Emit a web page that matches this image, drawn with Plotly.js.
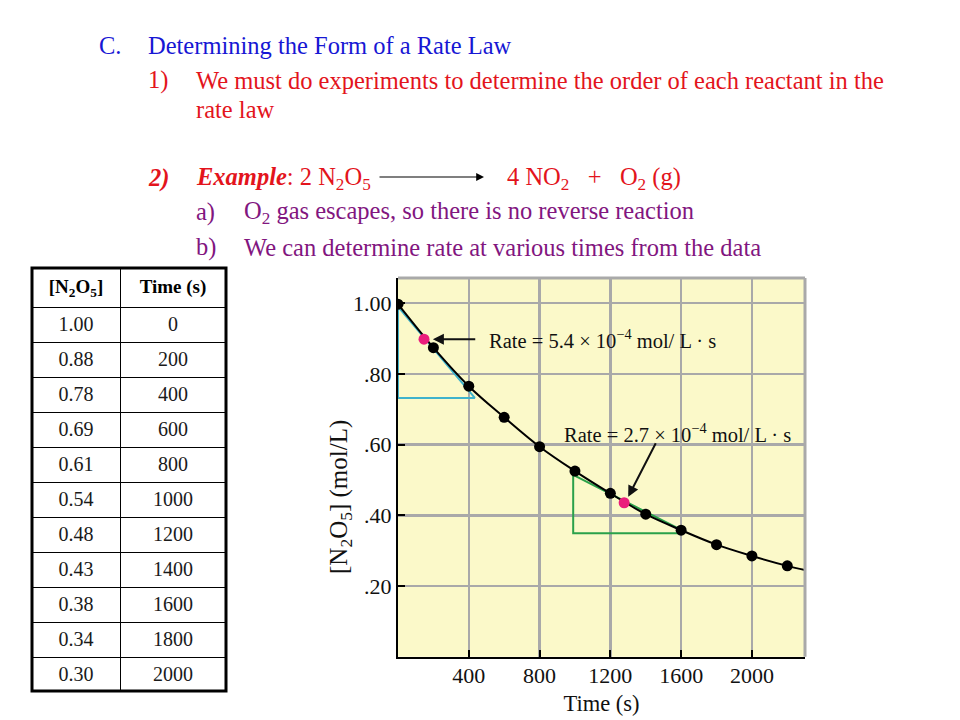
<!DOCTYPE html>
<html>
<head>
<meta charset="utf-8">
<script src="https://cdn.plot.ly/plotly-3.0.1.min.js"></script>
<style>
html, body { margin: 0; padding: 0; background: #ffffff; }
#chart { width: 960px; height: 720px; }
</style>
</head>
<body>
<div id="chart"></div>
<script>
// ---- Table data ----
const tableHeader = ["<b>[N<sub>2</sub>O<sub>5</sub>]</b>", "<b>Time (s)</b>"];
const tableConc = ["1.00", "0.88", "0.78", "0.69", "0.61", "0.54", "0.48", "0.43", "0.38", "0.34", "0.30"];
const tableTime = ["0", "200", "400", "600", "800", "1000", "1200", "1400", "1600", "1800", "2000"];

// ---- Graph data (read from the plotted points) ----
const pointTime = [0, 200, 400, 600, 800, 1000, 1200, 1400, 1600, 1800, 2000, 2200];
const pointConc = [0.997, 0.874, 0.765, 0.677, 0.594, 0.525, 0.462, 0.403, 0.358, 0.317, 0.285, 0.257];
const curveTime = [0, 200, 400, 600, 800, 1000, 1200, 1400, 1600, 1800, 2000, 2200, 2300];
const curveConc = [0.997, 0.874, 0.765, 0.677, 0.594, 0.525, 0.462, 0.403, 0.358, 0.317, 0.285, 0.257, 0.245];
const rateTime = [147, 1278];
const rateConc = [0.898, 0.4355];
const tangent1Time = [0, 434, 0, 0];
const tangent1Conc = [0.99, 0.732, 0.732, 0.99];
const tangent2Time = [990, 1603, 1603, 990, 990];
const tangent2Conc = [0.514, 0.358, 0.349, 0.349, 0.514];
const xTicks = [400, 800, 1200, 1600, 2000];
const xTickLabels = ["400", "800", "1200", "1600", "2000"];
const yTicks = [0.2, 0.4, 0.6, 0.8, 1.0];
const yTickLabels = [".20", ".40", ".60", ".80", "1.00"];
const rateLabels = ["Rate = 5.4 × 10<sup>−4</sup> mol/ L · s", "Rate = 2.7 × 10<sup>−4</sup> mol/ L · s"];
const xTitle = "Time (s)";
const yTitle = "[N<sub>2</sub>O<sub>5</sub>] (mol/L)";

const SERIF = "Liberation Serif, Times New Roman, serif";
const BLUE = "#1717d4";
const RED = "#e3141c";
const PURPLE = "#82167f";
const W = 960, H = 720;
const px = v => v / W;
const py = v => 1 - v / H;

const traces = [
  {
    type: "table",
    domain: { x: [px(32), px(226)], y: [py(691), py(268)] },
    columnwidth: [88, 106],
    header: {
      values: tableHeader,
      align: "center",
      height: 35,
      line: { color: "#000000", width: 1 },
      fill: { color: "#ffffff" },
      font: { family: SERIF, size: 19, color: "#000000" }
    },
    cells: {
      values: [tableConc, tableTime],
      align: "center",
      height: 35,
      line: { color: "#000000", width: 1 },
      fill: { color: "#ffffff" },
      font: { family: SERIF, size: 20, color: "#1a1a1a" }
    }
  },
  {
    type: "scatter", mode: "lines",
    x: tangent1Time, y: tangent1Conc,
    line: { color: "#3fb3cc", width: 2 },
    hoverinfo: "skip", showlegend: false
  },
  {
    type: "scatter", mode: "lines",
    x: tangent2Time, y: tangent2Conc,
    line: { color: "#2aa14a", width: 2 },
    hoverinfo: "skip", showlegend: false
  },
  {
    type: "scatter", mode: "lines",
    x: curveTime, y: curveConc,
    line: { color: "#000000", width: 2, shape: "spline", smoothing: 1 },
    hoverinfo: "skip", showlegend: false
  },
  {
    type: "scatter", mode: "markers",
    x: pointTime, y: pointConc,
    marker: { color: "#000000", size: 11 },
    showlegend: false
  },
  {
    type: "scatter", mode: "markers",
    x: rateTime, y: rateConc,
    marker: { color: "#ea1d7c", size: 11 },
    showlegend: false
  }
];

const annotations = [
  // slide text
  { x: px(97), y: py(45), text: "C.", color: BLUE },
  { x: px(146), y: py(45), text: "Determining the Form of a Rate Law", color: BLUE },
  { x: px(146), y: py(80), text: "1)", color: RED },
  { x: px(194), y: py(80), text: "We must do experiments to determine the order of each reactant in the", color: RED },
  { x: px(194), y: py(109), text: "rate law", color: RED },
  { x: px(146), y: py(178), text: "<b><i>2)</i></b>", color: RED },
  { x: px(194), y: py(178), text: "<b><i>Example</i></b>: 2 N<sub>2</sub>O<sub>5</sub>", color: RED },
  { x: px(505), y: py(178), text: "4 NO<sub>2</sub>\u00a0\u00a0 +\u00a0\u00a0 O<sub>2</sub> (g)", color: RED },
  { x: px(194), y: py(212), text: "a)", color: PURPLE },
  { x: px(242), y: py(212), text: "O<sub>2</sub> gas escapes, so there is no reverse reaction", color: PURPLE },
  { x: px(194), y: py(247), text: "b)", color: PURPLE },
  { x: px(242), y: py(247), text: "We can determine rate at various times from the data", color: PURPLE }
].map(a => ({
  xref: "paper", yref: "paper", x: a.x, y: a.y, text: a.text,
  xanchor: "left", yanchor: "middle", showarrow: false,
  font: { family: SERIF, size: 24.5, color: a.color }
}));

// reaction arrow
annotations.push({
  xref: "paper", yref: "paper", x: px(484), y: py(177), ax: -106, ay: 0,
  text: "", showarrow: true, arrowhead: 2, arrowsize: 1.3, arrowwidth: 1.2,
  arrowcolor: "#000000", standoff: 0
});

// y-axis title (placed lower than the axis centre, as in the reference)
annotations.push({
  xref: "paper", yref: "paper", x: px(340), y: py(497), text: yTitle,
  textangle: -90, xanchor: "center", yanchor: "middle", showarrow: false,
  font: { family: SERIF, size: 25, color: "#111111" }
});

// rate labels and arrows
annotations.push(
  {
    xref: "x", yref: "y", x: 501, y: rateConc[0], text: rateLabels[0],
    xanchor: "left", yanchor: "middle", showarrow: false,
    font: { family: SERIF, size: 20.5, color: "#111111" }
  },
  {
    xref: "x", yref: "y", x: 925, y: 0.6325, text: rateLabels[1],
    xanchor: "left", yanchor: "middle", showarrow: false,
    font: { family: SERIF, size: 20.5, color: "#111111" }
  },
  {
    xref: "x", yref: "y", x: 197, y: rateConc[0], axref: "x", ayref: "y", ax: 445, ay: rateConc[0],
    text: "", showarrow: true, arrowhead: 2, arrowsize: 1.1, arrowwidth: 2, arrowcolor: "#111111", standoff: 0
  },
  {
    xref: "x", yref: "y", x: 1301, y: 0.4525, axref: "x", ayref: "y", ax: 1461, ay: 0.608,
    text: "", showarrow: true, arrowhead: 2, arrowsize: 1.1, arrowwidth: 2, arrowcolor: "#111111", standoff: 0
  }
);

const layout = {
  width: W, height: H,
  margin: { l: 0, r: 0, t: 0, b: 0, pad: 0 },
  paper_bgcolor: "#ffffff",
  plot_bgcolor: "#fbf9c9",
  showlegend: false,
  font: { family: SERIF, color: "#111111" },
  xaxis: {
    domain: [px(398), px(805)],
    range: [0, 2300],
    tickmode: "array", tickvals: xTicks, ticktext: xTickLabels,
    ticks: "inside", ticklen: 7, tickwidth: 2, tickcolor: "#000000",
    showgrid: true, gridcolor: "#a9a9a9", gridwidth: 2.5,
    zeroline: false,
    showline: true, linecolor: "#000000", linewidth: 2,
    tickfont: { family: SERIF, size: 22, color: "#111111" },
    ticklabelstandoff: -2,
    automargin: false,
    title: { text: xTitle, font: { family: SERIF, size: 22.5, color: "#111111" }, standoff: 8 },
    fixedrange: true
  },
  yaxis: {
    domain: [py(656.75), py(278)],
    range: [0, 1.071],
    tickmode: "array", tickvals: yTicks, ticktext: yTickLabels,
    ticks: "inside", ticklen: 7, tickwidth: 2, tickcolor: "#000000",
    showgrid: true, gridcolor: "#a9a9a9", gridwidth: 2.5,
    zeroline: false,
    showline: true, linecolor: "#000000", linewidth: 2,
    tickfont: { family: SERIF, size: 22, color: "#111111" },
    automargin: false,
    fixedrange: true
  },
  shapes: [
    { type: "line", xref: "x domain", yref: "y domain", x0: 0, x1: 1, y0: 1, y1: 1, line: { color: "#a9a9a9", width: 3 } },
    { type: "line", xref: "x domain", yref: "y domain", x0: 1, x1: 1, y0: 0, y1: 1, line: { color: "#a9a9a9", width: 3 } },
    { type: "rect", xref: "paper", yref: "paper", x0: px(32), x1: px(226), y0: py(691), y1: py(268), line: { color: "#000000", width: 3 } }
  ],
  annotations: annotations
};

Plotly.newPlot("chart", traces, layout, { displayModeBar: false, staticPlot: true });
</script>
</body>
</html>
